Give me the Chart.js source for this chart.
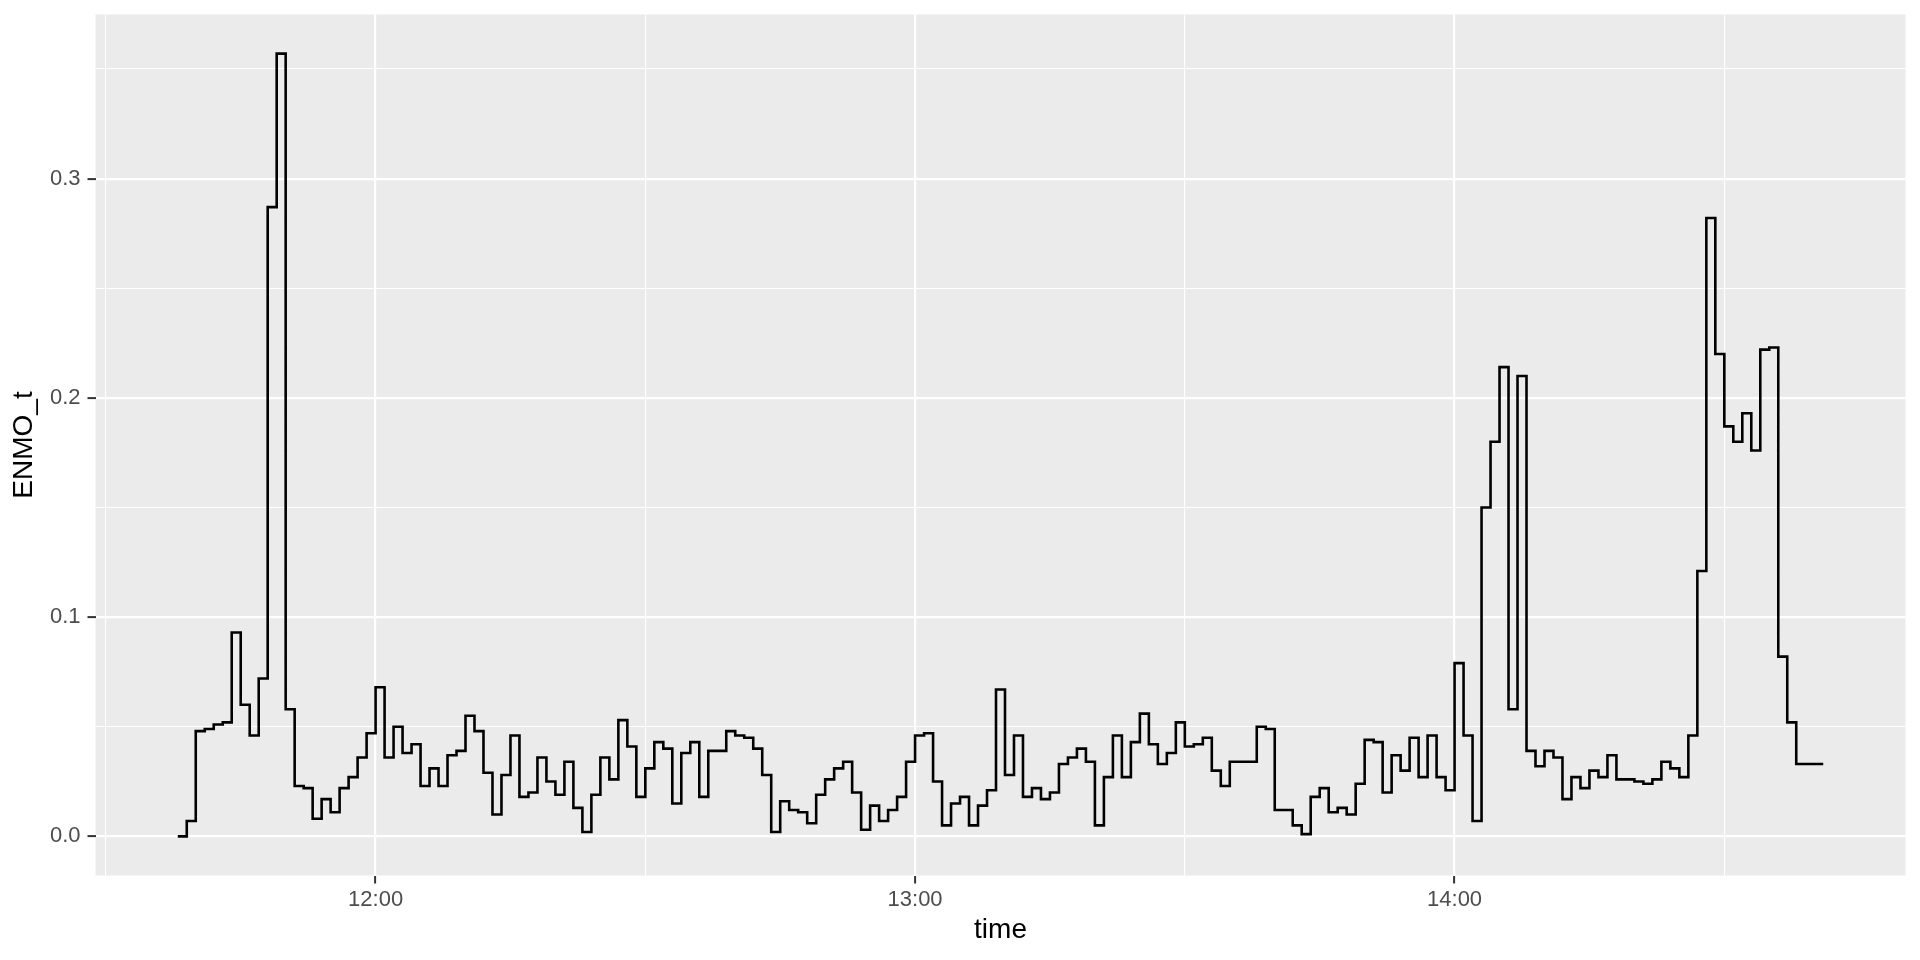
<!DOCTYPE html>
<html>
<head>
<meta charset="utf-8">
<title>ENMO_t</title>
<script src="https://cdn.jsdelivr.net/npm/chart.js@4.4.1/dist/chart.umd.min.js"></script>
<style>
  html, body { margin: 0; padding: 0; background: #ffffff; }
  #wrap { width: 1920px; height: 960px; }
</style>
</head>
<body>
<div id="wrap"><canvas id="chartEnmo"></canvas></div>
<script>
// ================= DADOS =================
const times11 = ["11:38","11:39","11:40","11:41","11:42","11:43","11:44","11:45","11:46","11:47",
  "11:48","11:49","11:50","11:51","11:52","11:53","11:54","11:55","11:56","11:57","11:58","11:59"];
const times12 = ["12:00","12:01","12:02","12:03","12:04","12:05","12:06","12:07","12:08","12:09",
  "12:10","12:11","12:12","12:13","12:14","12:15","12:16","12:17","12:18","12:19",
  "12:20","12:21","12:22","12:23","12:24","12:25","12:26","12:27","12:28","12:29",
  "12:30","12:31","12:32","12:33","12:34","12:35","12:36","12:37","12:38","12:39",
  "12:40","12:41","12:42","12:43","12:44","12:45","12:46","12:47","12:48","12:49",
  "12:50","12:51","12:52","12:53","12:54","12:55","12:56","12:57","12:58","12:59"];
const times13 = ["13:00","13:01","13:02","13:03","13:04","13:05","13:06","13:07","13:08","13:09",
  "13:10","13:11","13:12","13:13","13:14","13:15","13:16","13:17","13:18","13:19",
  "13:20","13:21","13:22","13:23","13:24","13:25","13:26","13:27","13:28","13:29",
  "13:30","13:31","13:32","13:33","13:34","13:35","13:36","13:37","13:38","13:39",
  "13:40","13:41","13:42","13:43","13:44","13:45","13:46","13:47","13:48","13:49",
  "13:50","13:51","13:52","13:53","13:54","13:55","13:56","13:57","13:58","13:59"];
const times14 = ["14:00","14:01","14:02","14:03","14:04","14:05","14:06","14:07","14:08","14:09",
  "14:10","14:11","14:12","14:13","14:14","14:15","14:16","14:17","14:18","14:19",
  "14:20","14:21","14:22","14:23","14:24","14:25","14:26","14:27","14:28","14:29",
  "14:30","14:31","14:32","14:33","14:34","14:35","14:36","14:37","14:38","14:39",
  "14:40","14:41"];

const enmo11 = [0.000,0.007,0.048,0.049,0.051,0.052,0.093,0.060,0.046,0.072,
  0.287,0.357,0.058,0.023,0.022,0.008,0.017,0.011,0.022,0.027,0.036,0.047];
const enmo12 = [0.068,0.036,0.050,0.038,0.042,0.023,0.031,0.023,0.037,0.039,
  0.055,0.048,0.029,0.010,0.028,0.046,0.018,0.020,0.036,0.025,
  0.019,0.034,0.013,0.002,0.019,0.036,0.026,0.053,0.041,0.018,
  0.031,0.043,0.040,0.015,0.038,0.043,0.018,0.039,0.039,0.048,
  0.046,0.045,0.040,0.028,0.002,0.016,0.012,0.011,0.006,0.019,
  0.026,0.031,0.034,0.020,0.003,0.014,0.007,0.012,0.018,0.034];
const enmo13 = [0.046,0.047,0.025,0.005,0.015,0.018,0.005,0.014,0.021,0.067,
  0.028,0.046,0.018,0.022,0.017,0.020,0.033,0.036,0.040,0.034,
  0.005,0.027,0.046,0.027,0.043,0.056,0.042,0.033,0.038,0.052,
  0.041,0.042,0.045,0.030,0.023,0.034,0.034,0.034,0.050,0.049,
  0.012,0.012,0.005,0.001,0.018,0.022,0.011,0.013,0.010,0.024,
  0.044,0.043,0.020,0.037,0.030,0.045,0.027,0.046,0.027,0.021];
const enmo14 = [0.079,0.046,0.007,0.150,0.180,0.214,0.058,0.210,0.039,0.032,
  0.039,0.036,0.017,0.027,0.022,0.030,0.027,0.037,0.026,0.026,
  0.025,0.024,0.026,0.034,0.031,0.027,0.046,0.121,0.282,0.220,
  0.187,0.180,0.193,0.176,0.222,0.223,0.082,0.052,0.033,0.033,
  0.033,0.033];

// ================= EIXOS =================
const xGridTimes = ["11:30","12:00","12:30","13:00","13:30","14:00","14:30"];
const xTickLabels = ["12:00","13:00","14:00"];
const yGridValues = [0, 0.05, 0.1, 0.15, 0.2, 0.25, 0.3, 0.35];
const yTickLabels = ["0.0","0.1","0.2","0.3"];

const FONT = "'Liberation Sans', Arial, Helvetica, sans-serif";

function toMinutes(t) {
  const [h, m] = t.split(":").map(Number);
  return h * 60 + m;
}
function toClock(v) {
  const h = Math.floor(v / 60);
  const m = Math.round(v - h * 60);
  return String(h).padStart(2, "0") + ":" + String(m).padStart(2, "0");
}

const times = times11.concat(times12, times13, times14);
const enmo = enmo11.concat(enmo12, enmo13, enmo14);
const points = times.map((t, i) => ({ x: toMinutes(t), y: enmo[i] }));

// expansão de 5% como no ggplot
const xs = points.map(p => p.x);
const ys = points.map(p => p.y);
const xLo = Math.min(...xs), xHi = Math.max(...xs);
const yLo = Math.min(...ys), yHi = Math.max(...ys);
const xPad = (xHi - xLo) * 0.05;
const yPad = (yHi - yLo) * 0.05;

const xMajor = v => xTickLabels.includes(toClock(v));
const yLabel = v => {
  const s = v.toFixed(1);
  return (Math.abs(v * 10 - Math.round(v * 10)) < 1e-9 && yTickLabels.includes(s)) ? s : "";
};

// sem folga extra para os rótulos: o painel fica onde o layout manda
function noPad(s) {
  s.paddingTop = 0;
  s.paddingBottom = 0;
  s.paddingLeft = 0;
  s.paddingRight = 0;
}

// fundo cinza do painel
const panelBg = {
  id: "panelBg",
  beforeDraw(chart) {
    const { ctx, chartArea: a } = chart;
    ctx.save();
    ctx.fillStyle = "#EBEBEB";
    ctx.fillRect(a.left, a.top, a.right - a.left, a.bottom - a.top);
    ctx.restore();
  }
};

new Chart(document.getElementById("chartEnmo"), {
  type: "line",
  data: {
    datasets: [{
      label: "ENMO_t",
      data: points,
      borderColor: "#000000",
      borderWidth: 2.6,
      stepped: true,
      pointRadius: 0,
      fill: false
    }]
  },
  options: {
    responsive: true,
    maintainAspectRatio: false,
    animation: false,
    devicePixelRatio: 1,
    layout: { padding: { top: 14.5, right: 14.5, left: 0, bottom: 0 } },
    plugins: {
      legend: { display: false },
      tooltip: { enabled: false }
    },
    scales: {
      x: {
        type: "linear",
        min: xLo - xPad,
        max: xHi + xPad,
        afterBuildTicks: s => { s.ticks = xGridTimes.map(t => ({ value: toMinutes(t) })); },
        afterFit: s => { s.height = 84.5; noPad(s); },
        border: { display: false },
        grid: {
          color: "#FFFFFF",
          lineWidth: c => (c.tick && xMajor(c.tick.value)) ? 2.2 : 1.1,
          tickColor: c => (c.tick && xMajor(c.tick.value)) ? "#333333" : "rgba(0,0,0,0)",
          tickWidth: 2,
          tickLength: 8
        },
        ticks: {
          autoSkip: false,
          maxRotation: 0,
          padding: 3,
          color: "#4D4D4D",
          font: { family: FONT, size: 22 },
          callback: v => xMajor(v) ? toClock(v) : ""
        },
        title: {
          display: true,
          text: "time",
          color: "#000000",
          font: { family: FONT, size: 28 },
          padding: { top: 0, bottom: 13 }
        }
      },
      y: {
        type: "linear",
        min: yLo - yPad,
        max: yHi + yPad,
        afterBuildTicks: s => { s.ticks = yGridValues.map(v => ({ value: v })); },
        afterFit: s => { s.width = 95.5; noPad(s); },
        border: { display: false },
        grid: {
          color: "#FFFFFF",
          lineWidth: c => (c.tick && yLabel(c.tick.value)) ? 2.2 : 1.1,
          tickColor: c => (c.tick && yLabel(c.tick.value)) ? "#333333" : "rgba(0,0,0,0)",
          tickWidth: 2,
          tickLength: 8
        },
        ticks: {
          autoSkip: false,
          padding: 7,
          color: "#4D4D4D",
          font: { family: FONT, size: 22 },
          callback: v => yLabel(v)
        },
        title: {
          display: true,
          text: "ENMO_t",
          color: "#000000",
          font: { family: FONT, size: 28 },
          padding: { top: 7, bottom: 0 }
        }
      }
    }
  },
  plugins: [panelBg]
});
</script>
</body>
</html>
